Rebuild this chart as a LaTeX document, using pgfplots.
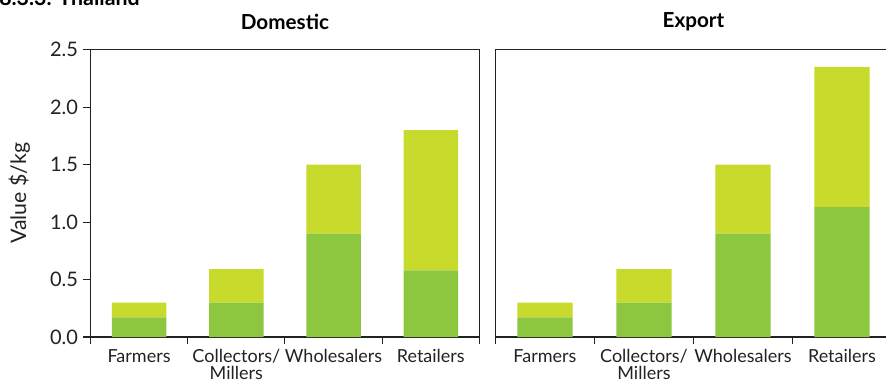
\documentclass[border=0pt]{standalone}
\usepackage{fontspec}
\setmainfont{Lato}
\usepackage{pgfplots}
\pgfplotsset{compat=1.18}
\definecolor{topc}{HTML}{C8DA2B}
\definecolor{botc}{HTML}{8DC63F}
\definecolor{axc}{HTML}{222222}
\pgfplotsset{
  mybars/.style={
    scale only axis, height=215.5pt,
    ybar stacked, bar width=0.56,
    ymin=0, ymax=2.5, xmin=-0.5, xmax=3.5,
    xtick={0,1,2,3},
    xticklabels={Farmers,{Collectors/\\Millers},Wholesalers,Retailers},
    xticklabel style={align=center, font=\fontsize{13.5}{13}\selectfont, color=axc},
    major x tick style={draw=none},
    minor xtick={-0.5,0.5,1.5,2.5,3.5},
    minor x tick style={axc, line width=0.8pt},
    minor tick length=5pt,
    major tick length=5.75pt,
    tick align=outside,
    xtick pos=bottom, ytick pos=left,
    axis line style={axc, line width=0.8pt},
    title style={font=\bfseries\fontsize{15.5}{16}\selectfont, anchor=center, at={(0.5,1)}, yshift=15pt},
  }
}
\begin{document}
\begin{tikzpicture}[x=0.75pt,y=0.75pt]
\useasboundingbox (0,0) rectangle (886,387);
\begin{scope}[overlay]
\node[anchor=base west, font=\bfseries\fontsize{16}{18}\selectfont, inner sep=0pt] at (-1,382) {8.3.3. Thailand};
\begin{axis}[mybars, width=291.75pt, at={(93,43.5)}, anchor=south west,
  title={Domestic},
  ytick={0,0.5,1,1.5,2,2.5},
  y tick style={axc, line width=0.8pt},
  /pgf/number format/fixed, /pgf/number format/fixed zerofill, /pgf/number format/precision=1, /pgf/number format/assume math mode=true,
  yticklabel style={font=\fontsize{15}{16}\selectfont, color=axc},
  ylabel={Value \$/kg},
  ylabel style={font=\fontsize{16}{17}\selectfont, color=axc, at={(axis description cs:-0.183,0.5)}, anchor=center},
]
\addplot[fill=botc, draw=none] coordinates {(0,0.17) (1,0.30) (2,0.90) (3,0.58)};
\addplot[fill=topc, draw=none] coordinates {(0,0.13) (1,0.29) (2,0.60) (3,1.22)};
\end{axis}
\begin{axis}[mybars, width=297pt, at={(500.5,43.5)}, anchor=south west,
  title={Export},
  ymajorticks=false,
]
\addplot[fill=botc, draw=none] coordinates {(0,0.17) (1,0.30) (2,0.90) (3,1.13)};
\addplot[fill=topc, draw=none] coordinates {(0,0.13) (1,0.29) (2,0.60) (3,1.22)};
\end{axis}
\end{scope}
\end{tikzpicture}
\end{document}
